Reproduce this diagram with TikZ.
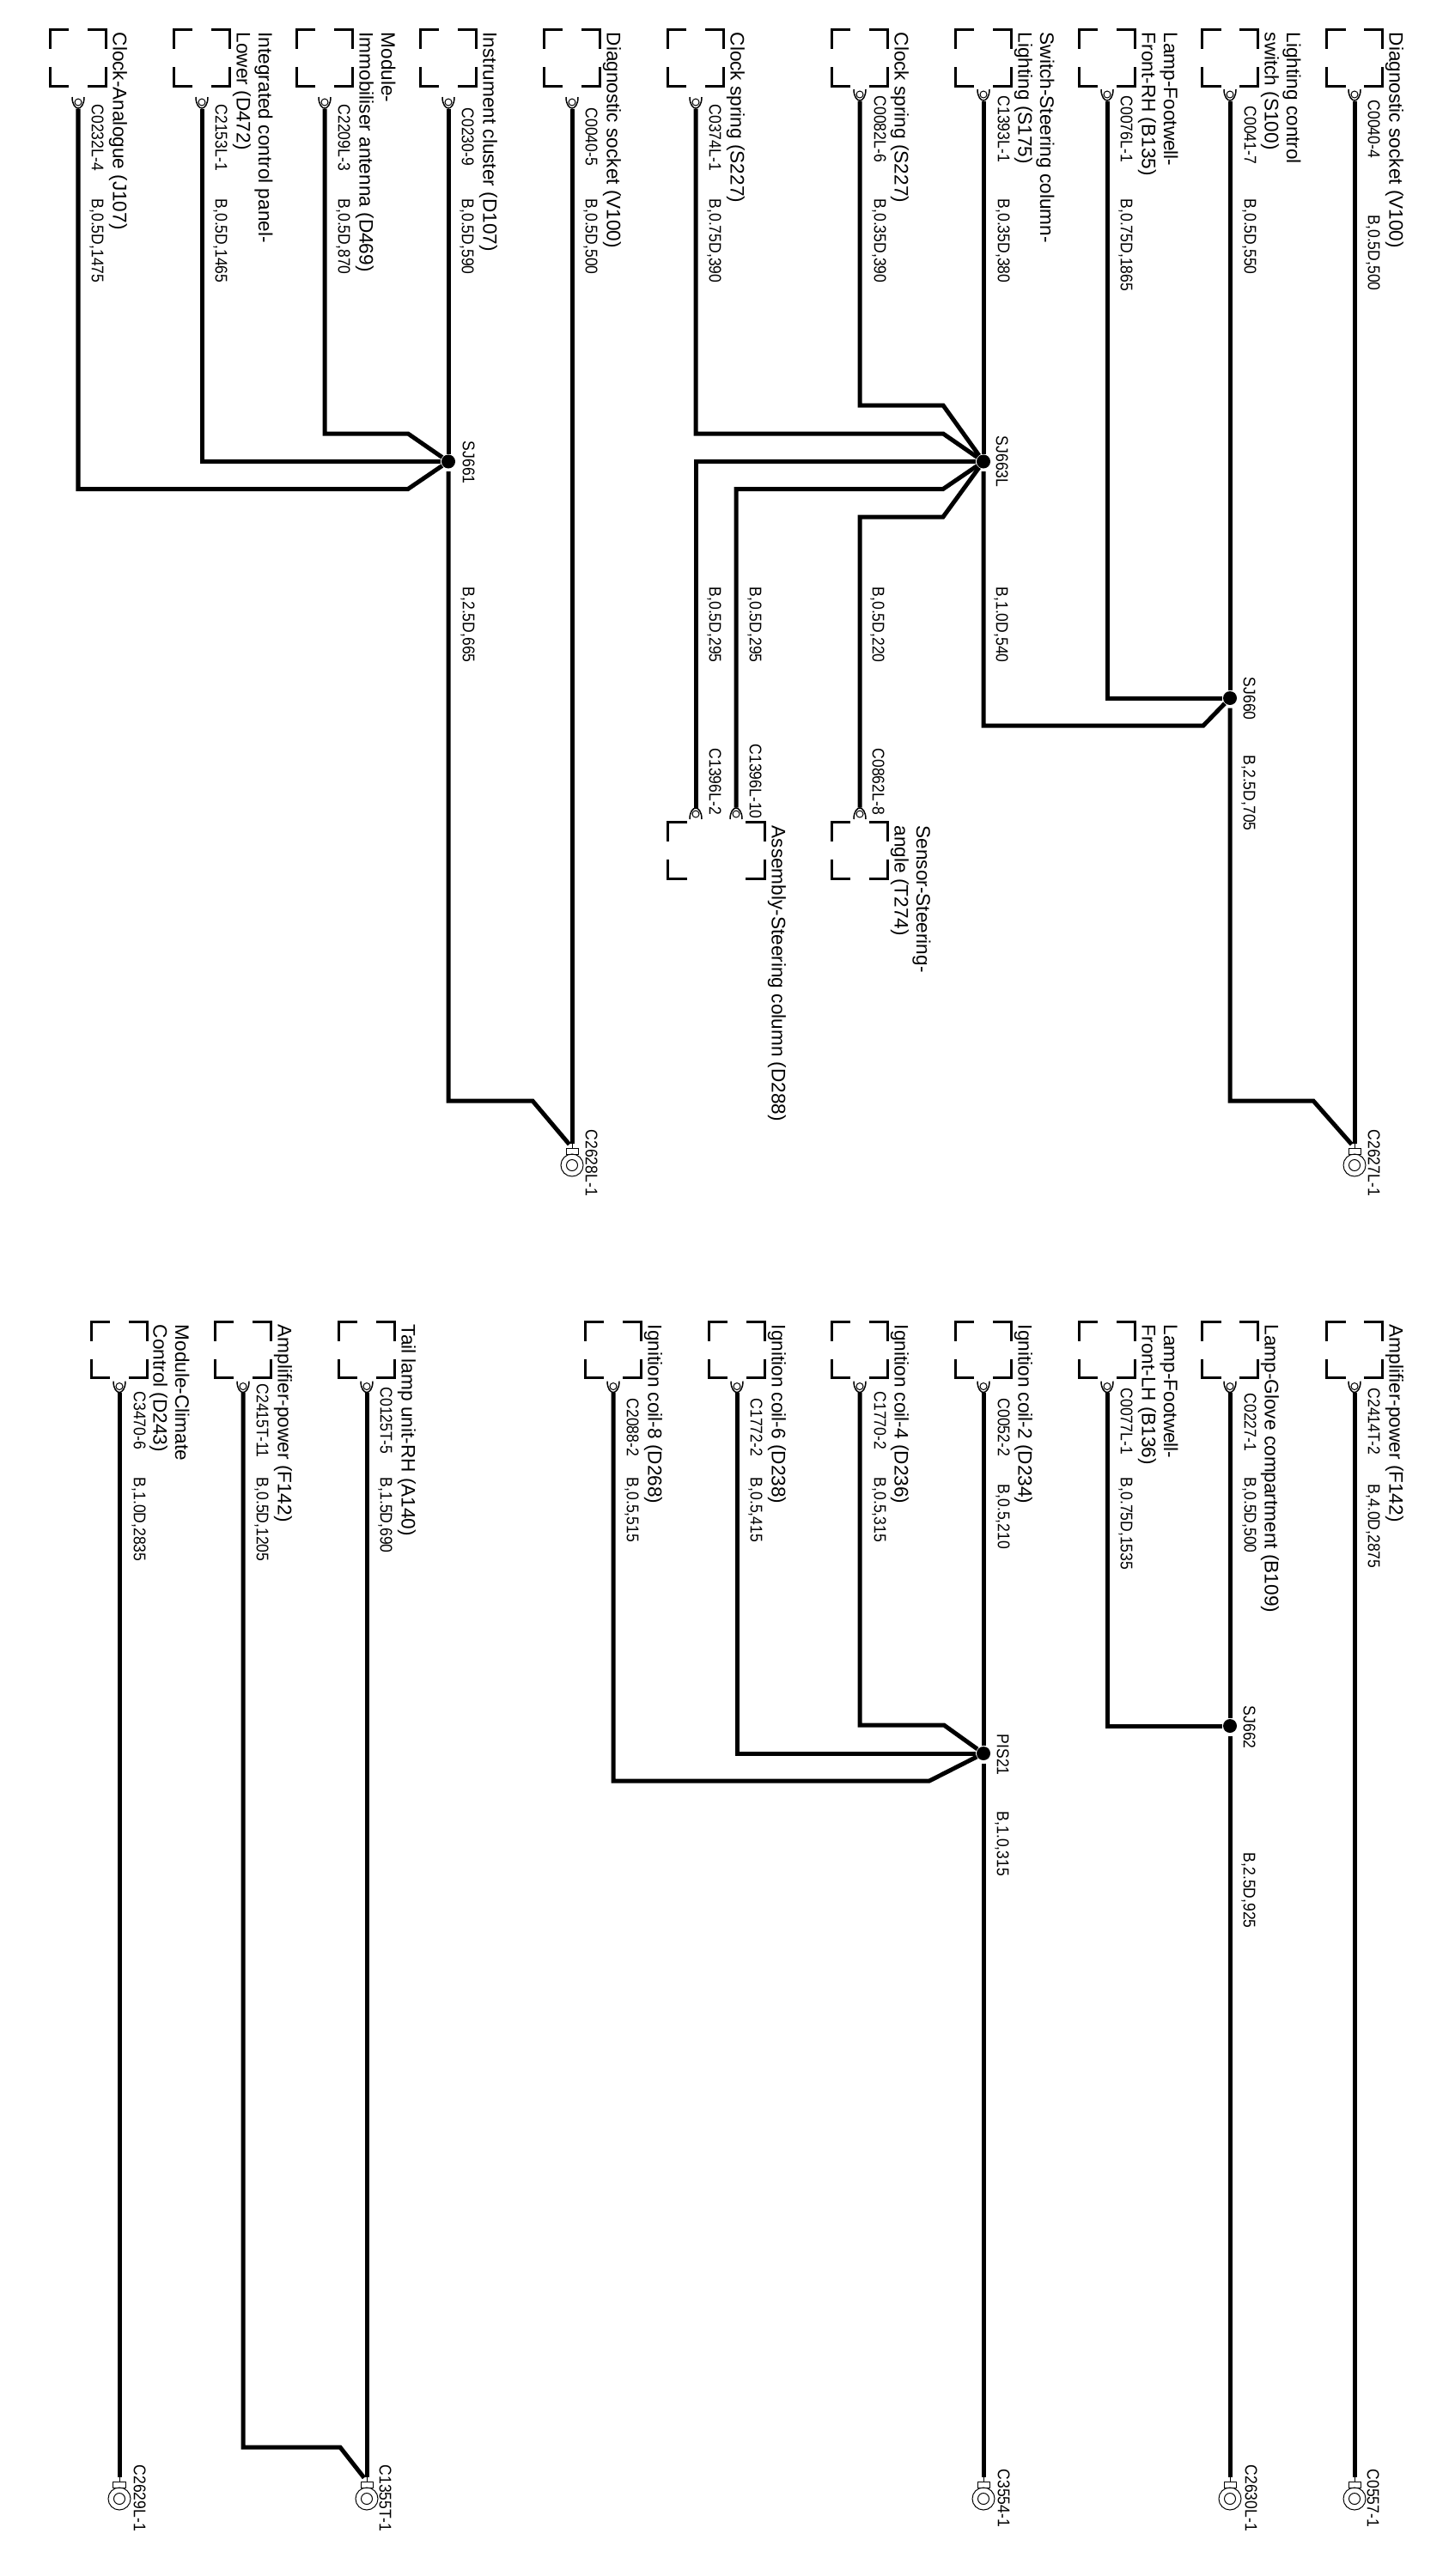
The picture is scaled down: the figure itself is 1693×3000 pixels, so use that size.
\documentclass[tikz,border=0pt]{standalone}
\usepackage{fontspec}
\setmainfont{Liberation Sans}
\usetikzlibrary{arrows}

\tikzset{
  housing/.style={rectangle,inner sep=0pt,outer sep=0pt,minimum width=0.65cm,minimum height=0.65cm,
    append after command={\pgfextra{
      \draw[line width=0.3mm]
        ([shift={(0,22)}]\tikzlastnode.north west) -- (\tikzlastnode.north west) -- ([shift={(22,0)}]\tikzlastnode.north west)
        ([shift={(0,22)}]\tikzlastnode.north east) -- (\tikzlastnode.north east) -- ([shift={(-22,0)}]\tikzlastnode.north east)
        ([shift={(0,-22)}]\tikzlastnode.south west) -- (\tikzlastnode.south west) -- ([shift={(22,0)}]\tikzlastnode.south west)
        ([shift={(0,-22)}]\tikzlastnode.south east) -- (\tikzlastnode.south east) -- ([shift={(-22,0)}]\tikzlastnode.south east);
    }}},
  wirepin/.style={circle,draw,line width=0.1mm,inner sep=0pt,minimum size=0.08cm,
    append after command={\pgfextra{
      \draw[line width=0.15mm]
        ([shift={(-7,-6*#1)}]\tikzlastnode.center) .. controls ([shift={(-7,3*#1)}]\tikzlastnode.center) and ([shift={(-3,7*#1)}]\tikzlastnode.center) .. ([shift={(0,7*#1)}]\tikzlastnode.center)
        .. controls ([shift={(3,7*#1)}]\tikzlastnode.center) and ([shift={(7,3*#1)}]\tikzlastnode.center) .. ([shift={(7,-6*#1)}]\tikzlastnode.center);
    }}},
  wirepin/.default=1,
  gndtab/.style={rectangle,draw,line width=0.1mm,inner sep=0pt,minimum width=0.14cm,minimum height=0.07cm,
    append after command={\pgfextra{
      \draw[line width=0.1mm] (\tikzlastnode.north) -- ([shift={(0,-6)}]\tikzlastnode.north);
      \draw[line width=0.1mm] ([shift={(0,16.5)}]\tikzlastnode.center) circle [radius=0.13cm]
                              ([shift={(0,16.5)}]\tikzlastnode.center) circle [radius=0.065cm];
    }}},
  splice/.style={circle,fill=black,inner sep=0pt,minimum size=0.16cm},
  wire/.style={line width=0.5mm,shorten <=0.3mm,line join=miter},
  togrnd/.style={shorten >=0.5mm},
  bigtext/.style={rotate=-90,anchor=south west,inner sep=0pt,text depth=0pt,align=left,font=\fontsize{6.43}{7.25}\selectfont},
  smalltext/.style={rotate=-90,yscale=1.12,anchor=south west,inner sep=0pt,text depth=0pt,font=\fontsize{5}{6}\selectfont}
}

\begin{document}
\begin{tikzpicture}[x=0.01cm,y=-0.01cm,node distance=4.25mm]
  \useasboundingbox (0,0) rectangle (1693,3000);

  \node[housing] (hClock)   at (91,67.5)   {};
  \node[housing] (hIcp)     at (235,67.5)  {};
  \node[housing] (hImmo)    at (378,67.5)  {};
  \node[housing] (hClus)    at (522,67.5)  {};
  \node[housing] (hDiagB)   at (666,67.5)  {};
  \node[housing] (hSpringB) at (810,67.5)  {};
  \node[housing] (hSpringA) at (1001,67.5) {};
  \node[housing] (hSteer)   at (1145,67.5) {};
  \node[housing] (hFootR)   at (1289,67.5) {};
  \node[housing] (hLight)   at (1432,67.5) {};
  \node[housing] (hDiagA)   at (1577,67.5) {};
  \node[housing,minimum width=1.12cm] (hAsm) at (834,990.5) {};
  \node[housing] (hAngle)   at (1001,990.5) {};

  \node[housing] (hClimate) at (139,1572)  {};
  \node[housing] (hAmpB)    at (283,1572)  {};
  \node[housing] (hTail)    at (427,1572)  {};
  \node[housing] (hCoilE)   at (714,1572)  {};
  \node[housing] (hCoilC)   at (858,1572)  {};
  \node[housing] (hCoilB)   at (1001,1572) {};
  \node[housing] (hCoilA)   at (1145,1572) {};
  \node[housing] (hFootL)   at (1289,1572) {};
  \node[housing] (hGlove)   at (1432,1572) {};
  \node[housing] (hAmpA)    at (1577,1572) {};

  \node[wirepin,node distance=5.15mm] (pClock)   [below of=hClock]   {};
  \node[wirepin,node distance=5.15mm] (pIcp)     [below of=hIcp]     {};
  \node[wirepin,node distance=5.15mm] (pImmo)    [below of=hImmo]    {};
  \node[wirepin,node distance=5.15mm] (pClus)    [below of=hClus]    {};
  \node[wirepin,node distance=5.15mm] (pDiagB)   [below of=hDiagB]   {};
  \node[wirepin,node distance=5.15mm] (pSpringB) [below of=hSpringB] {};
  \node[wirepin] (pSpringA) [below of=hSpringA] {};
  \node[wirepin] (pSteer)   [below of=hSteer]   {};
  \node[wirepin] (pFootR)   [below of=hFootR]   {};
  \node[wirepin] (pLight)   [below of=hLight]   {};
  \node[wirepin] (pDiagA)   [below of=hDiagA]   {};
  \node[wirepin=-1] (pAsmA)  at (810,948)  {};
  \node[wirepin=-1] (pAsmB)  at (857,948)  {};
  \node[wirepin=-1] (pAngle) at (1001,948) {};

  \node[wirepin] (pClimate) [below of=hClimate] {};
  \node[wirepin] (pAmpB)    [below of=hAmpB]    {};
  \node[wirepin] (pTail)    [below of=hTail]    {};
  \node[wirepin] (pCoilE)   [below of=hCoilE]   {};
  \node[wirepin] (pCoilC)   [below of=hCoilC]   {};
  \node[wirepin] (pCoilB)   [below of=hCoilB]   {};
  \node[wirepin] (pCoilA)   [below of=hCoilA]   {};
  \node[wirepin] (pFootL)   [below of=hFootL]   {};
  \node[wirepin] (pGlove)   [below of=hGlove]   {};
  \node[wirepin] (pAmpA)    [below of=hAmpA]    {};

  \node[gndtab] (gA) at (666,1340.5)  {};
  \node[gndtab] (gB) at (1577,1340.5) {};
  \node[gndtab] (gC) at (139,2893.5)  {};
  \node[gndtab] (gD) at (427,2893.5)  {};
  \node[gndtab] (gE) at (1145,2893.5) {};
  \node[gndtab] (gF) at (1432,2893.5) {};
  \node[gndtab] (gG) at (1577,2893.5) {};

  \node[splice] (SJ661)  at (522,537.5)  {};
  \node[splice] (SJ663L) at (1145,537.5) {};
  \node[splice] (SJ660)  at (1432,813)   {};
  \node[splice] (PIS21)  at (1145,2042)  {};
  \node[splice] (SJ662)  at (1432,2010)  {};

  \draw[wire] (pClock.south) |- (475,569.5) -- (SJ661);
  \draw[wire] (pIcp.south) |- (SJ661.west);
  \draw[wire] (pImmo.south) |- (475,505) -- (SJ661);
  \draw[wire] (pClus.south) -- (SJ661);
  \draw[wire,togrnd] (SJ661.south) |- (620,1282) -- (gA.north);
  \draw[wire,togrnd] (pDiagB.south) -- (gA.north);
  \draw[wire] (pSpringB.south) |- (1098,505) -- (SJ663L);
  \draw[wire] (pSpringA.south) |- (1098,472) -- (SJ663L);
  \draw[wire] (pSteer.south) -- (SJ663L);
  \draw[wire] (pAsmA.north) |- (SJ663L.west);
  \draw[wire] (pAsmB.north) |- (1098,569.5) -- (SJ663L);
  \draw[wire] (pAngle.north) |- (1098,602) -- (SJ663L);
  \draw[wire] (SJ663L.south) |- (1401,845) -- (SJ660);
  \draw[wire] (pFootR.south) |- (SJ660.west);
  \draw[wire] (pLight.south) -- (SJ660);
  \draw[wire,togrnd] (SJ660.south) |- (1529,1282) -- (gB.north);
  \draw[wire,togrnd] (pDiagA.south) -- (gB.north);

  \draw[wire,togrnd] (pClimate.south) -- (gC.north);
  \draw[wire,togrnd] (pAmpB.south) |- (396,2850) -- (gD.north);
  \draw[wire,togrnd] (pTail.south) -- (gD.north);
  \draw[wire] (pCoilE.south) |- (1082,2074) -- (PIS21);
  \draw[wire] (pCoilC.south) |- (PIS21.west);
  \draw[wire] (pCoilB.south) |- (1099,2009) -- (PIS21);
  \draw[wire] (pCoilA.south) -- (PIS21);
  \draw[wire,togrnd] (PIS21.south) -- (gE.north);
  \draw[wire] (pFootL.south) |- (SJ662.west);
  \draw[wire] (pGlove.south) -- (SJ662);
  \draw[wire,togrnd] (SJ662.south) -- (gF.north);
  \draw[wire,togrnd] (pAmpA.south) -- (gG.north);

  \node[bigtext] (nClock)   at (131,37)  {Clock-Analogue (J107)};
  \node[bigtext] (nIcp)     at (275,37)  {Integrated control panel-\\Lower (D472)};
  \node[bigtext] (nImmo)    at (418,37)  {Module-\\Immobiliser antenna (D469)};
  \node[bigtext] (nClus)    at (562,37)  {Instrument cluster (D107)};
  \node[bigtext] (nDiagB)   at (706,37)  {Diagnostic socket (V100)};
  \node[bigtext] (nSpringB) at (850,37)  {Clock spring (S227)};
  \node[bigtext] (nSpringA) at (1041,37) {Clock spring (S227)};
  \node[bigtext] (nSteer)   at (1185,37) {Switch-Steering column-\\Lighting (S175)};
  \node[bigtext] (nFootR)   at (1329,37) {Lamp-Footwell-\\Front-RH (B135)};
  \node[bigtext] (nLight)   at (1472,37) {Lighting control\\switch (S100)};
  \node[bigtext] (nDiagA)   at (1617,37) {Diagnostic socket (V100)};
  \node[bigtext] (nAsm)     at (898,961) {Assembly-Steering column (D288)};
  \node[bigtext] (nAngle)   at (1041,961) {Sensor-Steering-\\angle (T274)};

  \node[bigtext] (nClimate) at (178,1542)  {Module-Climate\\Control (D243)};
  \node[bigtext] (nAmpB)    at (323,1542)  {Amplifier-power (F142)};
  \node[bigtext] (nTail)    at (467,1542)  {Tail lamp unit-RH (A140)};
  \node[bigtext] (nCoilE)   at (754,1542)  {Ignition coil-8 (D268)};
  \node[bigtext] (nCoilC)   at (898,1542)  {Ignition coil-6 (D238)};
  \node[bigtext] (nCoilB)   at (1041,1542) {Ignition coil-4 (D236)};
  \node[bigtext] (nCoilA)   at (1185,1542) {Ignition coil-2 (D234)};
  \node[bigtext] (nFootL)   at (1329,1542) {Lamp-Footwell-\\Front-LH (B136)};
  \node[bigtext] (nGlove)   at (1472,1542) {Lamp-Glove compartment (B109)};
  \node[bigtext] (nAmpA)    at (1617,1542) {Amplifier-power (F142)};

  \node[smalltext] (cClock)   at (106,121)  {C0232L-4};
  \node[smalltext] (cIcp)     at (250,121)  {C2153L-1};
  \node[smalltext] (cImmo)    at (393,121)  {C2209L-3};
  \node[smalltext] (cClus)    at (537,125)  {C0230-9};
  \node[smalltext] (cDiagB)   at (681,125)  {C0040-5};
  \node[smalltext] (cSpringB) at (825,121)  {C0374L-1};
  \node[smalltext] (cSpringA) at (1017,111) {C0082L-6};
  \node[smalltext] (cSteer)   at (1161,111) {C1393L-1};
  \node[smalltext] (cFootR)   at (1304,111) {C0076L-1};
  \node[smalltext] (cLight)   at (1448,123) {C0041-7};
  \node[smalltext] (cDiagA)   at (1592,116) {C0040-4};
  \node[smalltext] (cAsmA)    at (825,871)  {C1396L-2};
  \node[smalltext] (cAsmB)    at (872,866)  {C1396L-10};
  \node[smalltext] (cAngle)   at (1015,871) {C0862L-8};

  \node[smalltext] (bClock)   at (106,231)  {B,0.5D,1475};
  \node[smalltext] (bIcp)     at (250,231)  {B,0.5D,1465};
  \node[smalltext] (bImmo)    at (393,231)  {B,0.5D,870};
  \node[smalltext] (bClus)    at (537,231)  {B,0.5D,590};
  \node[smalltext] (bDiagB)   at (681,231)  {B,0.5D,500};
  \node[smalltext] (bSpringB) at (825,231)  {B,0.75D,390};
  \node[smalltext] (bSpringA) at (1017,231) {B,0.35D,390};
  \node[smalltext] (bSteer)   at (1161,231) {B,0.35D,380};
  \node[smalltext] (bFootR)   at (1304,231) {B,0.75D,1865};
  \node[smalltext] (bLight)   at (1448,231) {B,0.5D,550};
  \node[smalltext] (bDiagA)   at (1592,250) {B,0.5D,500};

  \node[smalltext] (bAsmA)    at (825,683)  {B,0.5D,295};
  \node[smalltext] (bAsmB)    at (872,683)  {B,0.5D,295};
  \node[smalltext] (bAngle)   at (1015,683) {B,0.5D,220};
  \node[smalltext] (bMid)     at (1159,683) {B,1.0D,540};
  \node[smalltext] (bRunA)    at (1447,879) {B,2.5D,705};
  \node[smalltext] (bRunB)    at (538,683)  {B,2.5D,665};

  \node[smalltext] (sA) at (538,513)  {SJ661};
  \node[smalltext] (sB) at (1159,507) {SJ663L};
  \node[smalltext] (sC) at (1447,788) {SJ660};
  \node[smalltext] (sD) at (1160,2019) {PIS21};
  \node[smalltext] (sE) at (1447,1986) {SJ662};

  \node[smalltext] (cClimate) at (155,1620)  {C3470-6};
  \node[smalltext] (cAmpB)    at (298,1611)  {C2415T-11};
  \node[smalltext] (cTail)    at (442,1615)  {C0125T-5};
  \node[smalltext] (cCoilE)   at (729,1628)  {C2088-2};
  \node[smalltext] (cCoilC)   at (873,1628)  {C1772-2};
  \node[smalltext] (cCoilB)   at (1017,1620) {C1770-2};
  \node[smalltext] (cCoilA)   at (1161,1628) {C0052-2};
  \node[smalltext] (cFootL)   at (1304,1616) {C0077L-1};
  \node[smalltext] (cGlove)   at (1448,1622) {C0227-1};
  \node[smalltext] (cAmpA)    at (1592,1616) {C2414T-2};

  \node[smalltext] (bClimate) at (155,1720)  {B,1.0D,2835};
  \node[smalltext] (bAmpB)    at (298,1720)  {B,0.5D,1205};
  \node[smalltext] (bTail)    at (442,1720)  {B,1.5D,690};
  \node[smalltext] (bCoilE)   at (729,1720)  {B,0.5,515};
  \node[smalltext] (bCoilC)   at (873,1720)  {B,0.5,415};
  \node[smalltext] (bCoilB)   at (1017,1720) {B,0.5,315};
  \node[smalltext] (bCoilA)   at (1161,1728) {B,0.5,210};
  \node[smalltext] (bFootL)   at (1304,1720) {B,0.75D,1535};
  \node[smalltext] (bGlove)   at (1448,1720) {B,0.5D,500};
  \node[smalltext] (bAmpA)    at (1592,1728) {B,4.0D,2875};
  \node[smalltext] (bRunC)    at (1160,2109) {B,1.0,315};
  \node[smalltext] (bRunD)    at (1447,2157) {B,2.5D,925};

  \node[smalltext] (lA) at (681,1315)  {C2628L-1};
  \node[smalltext] (lB) at (1592,1315) {C2627L-1};
  \node[smalltext] (lC) at (155,2870)  {C2629L-1};
  \node[smalltext] (lD) at (441,2870)  {C1355T-1};
  \node[smalltext] (lE) at (1161,2875) {C3554-1};
  \node[smalltext] (lF) at (1449,2870) {C2630L-1};
  \node[smalltext] (lG) at (1591,2875) {C0557-1};
\end{tikzpicture}
\end{document}
